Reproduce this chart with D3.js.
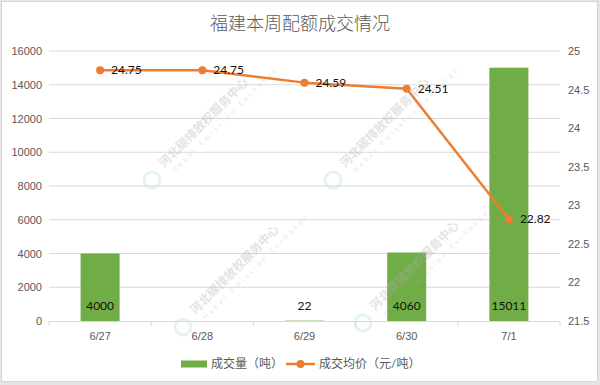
<!DOCTYPE html>
<html>
<head>
<meta charset="utf-8">
<script src="https://cdn.jsdelivr.net/npm/d3@7"></script>
<style>
  body { margin: 0; background: #e6e6e6; }
  svg { display: block; font-family: Lato, "Noto Sans CJK SC", sans-serif; }
</style>
</head>
<body>
<svg id="chart" width="600" height="385"></svg>
<script>
// Chart data
const dates = ["6/27", "6/28", "6/29", "6/30", "7/1"]
const volumes = [4000, 0, 22, 4060, 15011]      // 成交量（吨）
const prices = [24.75, 24.75, 24.59, 24.51, 22.82] // 成交均价（元/吨）
const leftTicks = [0, 2000, 4000, 6000, 8000, 10000, 12000, 14000, 16000]
const rightTicks = [21.5, 22, 22.5, 23, 23.5, 24, 24.5, 25]

const green = "#70ad47", orange = "#ed7d31", textGray = "#595959", gridGray = "#d9d9d9"

const svg = d3.select("#chart")
const margin = {left: 49, right: 40, top: 51, bottom: 64}
const width = 600 - margin.left - margin.right
const height = 385 - margin.top - margin.bottom

// White chart card on gray page
svg.append("rect").attr("x", 1.5).attr("y", 1.5).attr("width", 596).attr("height", 380)
  .attr("fill", "#fff").attr("stroke", "#d6d6d6")

svg.append("text").attr("x", 300).attr("y", 30).attr("text-anchor", "middle")
  .attr("font-size", 18).attr("fill", textGray).attr("font-family", "'Noto Sans CJK SC', sans-serif")
  .attr("font-weight", 300)
  .text("福建本周配额成交情况")

const g = svg.append("g").attr("transform", `translate(${margin.left},${margin.top})`)

const x = d3.scaleBand().domain(dates).range([0, width])
const yL = d3.scaleLinear().domain([0, 16000]).range([height, 0])
const yR = d3.scaleLinear().domain([21.5, 25]).range([height, 0])
const cx = i => x(dates[i]) + x.bandwidth() / 2

// Gridlines
g.append("g").selectAll("line").data(leftTicks.filter(d => d > 0)).join("line")
  .attr("x1", 0).attr("x2", width)
  .attr("y1", d => yL(d)).attr("y2", d => yL(d))
  .attr("stroke", gridGray)

// Left axis
const leftAxis = g.append("g")
  .call(d3.axisLeft(yL).tickValues(leftTicks).tickSize(0).tickPadding(7).tickFormat(d3.format("d")))
leftAxis.select(".domain").remove()
leftAxis.selectAll("text").attr("font-size", 11).attr("fill", textGray)

// Right axis
const rightAxis = g.append("g").attr("transform", `translate(${width},0)`)
  .call(d3.axisRight(yR).tickValues(rightTicks).tickSize(0).tickPadding(8).tickFormat(d3.format("")))
rightAxis.select(".domain").remove()
rightAxis.selectAll("text").attr("font-size", 11).attr("fill", textGray)

// Bottom axis
const bottomAxis = g.append("g").attr("transform", `translate(0,${height})`)
  .call(d3.axisBottom(x).tickSize(0).tickPadding(11))
bottomAxis.select(".domain").attr("stroke", gridGray)
bottomAxis.selectAll("text").attr("font-size", 11).attr("fill", textGray)
g.append("g").selectAll("line").data(d3.range(dates.length + 1)).join("line")
  .attr("x1", i => i * x.bandwidth()).attr("x2", i => i * x.bandwidth())
  .attr("y1", height).attr("y2", height + 5).attr("stroke", gridGray)

// Bars
const barW = 39
g.append("g").selectAll("rect").data(volumes).join("rect")
  .attr("x", (d, i) => cx(i) - barW / 2)
  .attr("y", d => yL(d)).attr("width", barW)
  .attr("height", d => height - yL(d))
  .attr("fill", green)

g.append("g").selectAll("text").data(volumes).join("text")
  .attr("x", (d, i) => cx(i))
  .attr("y", height - 11).attr("text-anchor", "middle")
  .attr("font-size", 12).attr("fill", "#111")
  .text(d => d > 0 ? d : "")

// Watermarks (河北碳排放权服务中心), drawn faintly over the bars
const marks = [[152, 180], [333, 180], [183, 327], [363, 323]]
const wm = svg.append("g").attr("pointer-events", "none")
marks.forEach(([mx, my]) => {
  const w = wm.append("g").attr("transform", `translate(${mx},${my})`)
  w.append("circle").attr("r", 8).attr("fill", "none").attr("stroke", "#c4e6d6")
    .attr("stroke-width", 3).attr("opacity", 0.45)
  const t = w.append("g").attr("transform", "translate(12,-12) rotate(-45)")
  t.append("text").attr("x", 0).attr("y", 0).attr("font-size", 12).attr("font-weight", 700)
    .attr("fill", "#b0b0b0").attr("opacity", 0.35).attr("font-family", "'Noto Sans CJK SC', sans-serif")
    .text("河北碳排放权服务中心")
  t.append("text").attr("x", 4).attr("y", 11).attr("font-size", 7).attr("letter-spacing", 3)
    .attr("fill", "#b0b0b0").attr("opacity", 0.3).text("Hebei Emission Exchange")
})

// Price line
const line = d3.line().x((d, i) => cx(i)).y(d => yR(d))
g.append("path").datum(prices).attr("d", line)
  .attr("fill", "none").attr("stroke", orange).attr("stroke-width", 2.5).attr("stroke-linejoin", "round")
g.append("g").selectAll("circle").data(prices).join("circle")
  .attr("cx", (d, i) => cx(i)).attr("cy", d => yR(d))
  .attr("r", 4).attr("fill", orange)
g.append("g").selectAll("text").data(prices).join("text")
  .attr("x", (d, i) => cx(i) + 11)
  .attr("y", d => yR(d)).attr("dy", "0.35em")
  .attr("font-size", 12).attr("fill", "#111")
  .text(d => d.toFixed(2))

// Legend
const legend = svg.append("g").attr("transform", "translate(0,364)")
legend.append("rect").attr("x", 181).attr("y", -3.5).attr("width", 26).attr("height", 7).attr("fill", green)
legend.append("text").attr("x", 211).attr("y", 0).attr("dy", "0.35em")
  .attr("font-size", 12).attr("fill", textGray).text("成交量（吨）")
legend.append("line").attr("x1", 286).attr("x2", 315).attr("y1", 0).attr("y2", 0)
  .attr("stroke", orange).attr("stroke-width", 2.5)
legend.append("circle").attr("cx", 300.5).attr("cy", 0).attr("r", 4).attr("fill", orange)
legend.append("text").attr("x", 319).attr("y", 0).attr("dy", "0.35em")
  .attr("font-size", 12).attr("fill", textGray).text("成交均价（元/吨）")
</script>
</body>
</html>
